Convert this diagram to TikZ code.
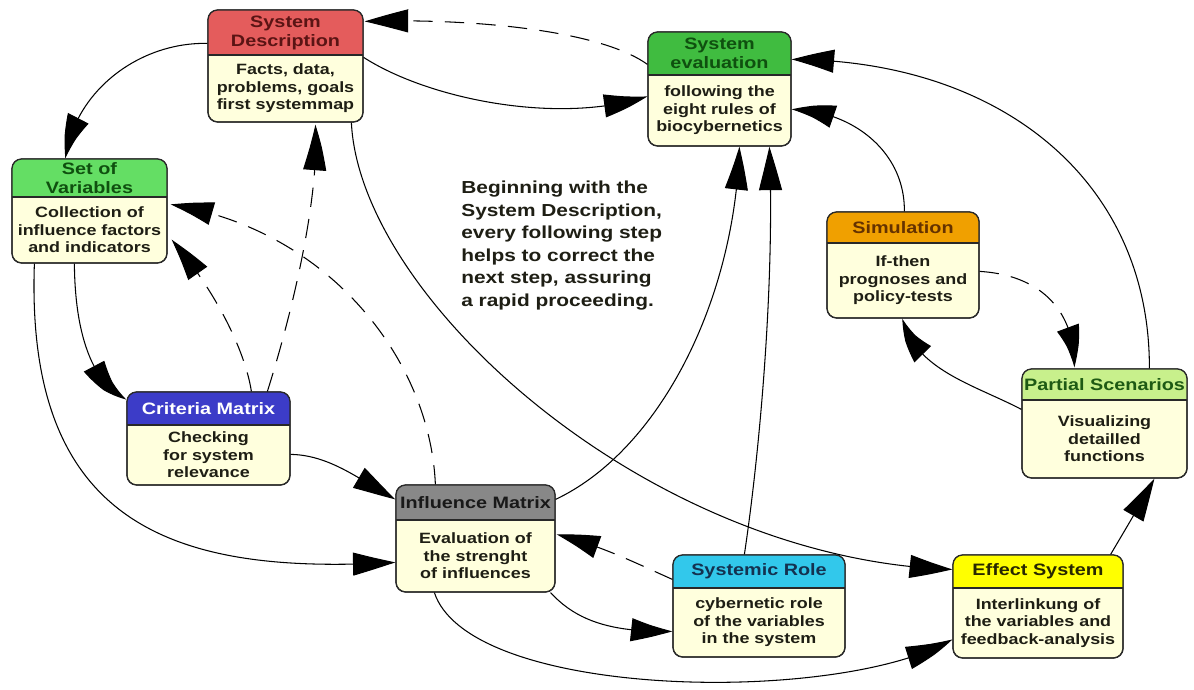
\documentclass[tikz,border=0pt]{standalone}
\usepackage{fontspec}
\setmainfont{Liberation Sans}[FakeStretch=1.2]
\usetikzlibrary{arrows.meta,bending,calc}

% header fills and title colours of the boxes
\definecolor{bodyfill}{RGB}{255,255,221}
\definecolor{edge}{RGB}{40,40,40}
\definecolor{ink}{RGB}{30,30,20}
\definecolor{hdSD}{RGB}{228,92,92}   \definecolor{ttSD}{RGB}{90,20,20}
\definecolor{hdSE}{RGB}{64,188,64}   \definecolor{ttSE}{RGB}{15,80,15}
\definecolor{hdSV}{RGB}{100,222,100} \definecolor{ttSV}{RGB}{15,80,15}
\definecolor{hdSI}{RGB}{240,160,0}   \definecolor{ttSI}{RGB}{100,50,0}
\definecolor{hdCM}{RGB}{60,60,200}   \definecolor{ttCM}{RGB}{255,255,255}
\definecolor{hdPS}{RGB}{200,240,140} \definecolor{ttPS}{RGB}{30,90,20}
\definecolor{hdIM}{RGB}{136,136,136} \definecolor{ttIM}{RGB}{25,25,25}
\definecolor{hdSR}{RGB}{50,200,235}  \definecolor{ttSR}{RGB}{20,50,80}
\definecolor{hdES}{RGB}{255,255,0}   \definecolor{ttES}{RGB}{40,40,0}

\tikzset{
  frame/.style={draw=edge, fill=bodyfill, rounded corners=5.5pt, inner sep=0pt, line width=0.7pt},
  boxtitle/.style={inner sep=0pt, align=center, font=\fontsize{9.4}{10.8}\selectfont\bfseries},
  boxbody/.style={inner sep=0pt, align=center, text=ink, font=\fontsize{8.5}{9.9}\selectfont\bfseries},
  link/.style={line width=0.6pt, draw=black, -{Triangle[length=0.86cm, width=0.46cm, bend]}},
  dlink/.style={link, dash pattern=on 11pt off 7pt},
}

% #1 name, #2,#3 top-left, #4,#5 bottom-right, #6 header base, #7 colour key, #8 title, #9 body
\newcommand\flowbox[9]{%
  \node[frame, minimum width={(#4-#2)*0.02cm}, minimum height={(#5-#3)*0.02cm}]
    (#1) at ({(#2+#4)/2},{(#3+#5)/2}) {};
  \begin{scope}
    \clip[rounded corners=5.5pt] (#2,#3) rectangle (#4,#5);
    \fill[hd#7] (#2,#3) rectangle (#4,#6);
  \end{scope}
  \draw[draw=edge, rounded corners=5.5pt, line width=0.7pt] (#2,#3) rectangle (#4,#5);
  \draw[draw=edge, line width=0.7pt] (#2,#6) -- (#4,#6);
  \node[boxtitle, text=tt#7] (#1-t) at ({(#2+#4)/2},{(#3+#6)/2}) {#8};
  \node[boxbody] (#1-b) at ({(#2+#4)/2},{(#6+#5)/2}) {#9};
}

\begin{document}
\begin{tikzpicture}[x=0.02cm, y=-0.02cm]
\useasboundingbox[fill=white] (0,0) rectangle (1194,690);

% the nine steps
\flowbox{sd}{208}{10}{363}{122}{55}{SD}{System\\Description}{Facts, data,\\problems, goals\\first systemmap}
\flowbox{se}{648}{32}{791}{146}{75}{SE}{System\\evaluation}{following the\\eight rules of\\biocybernetics}
\flowbox{sv}{12}{159}{167}{263}{197}{SV}{Set of\\Variables}{Collection of\\influence factors\\and indicators}
\flowbox{si}{827}{212}{979}{318}{243}{SI}{Simulation}{If-then\\prognoses and\\policy-tests}
\flowbox{cm}{127}{392}{290}{485}{425}{CM}{Criteria Matrix}{Checking\\for system\\relevance}
\flowbox{ps}{1022}{369}{1187}{478}{400}{PS}{Partial Scenarios}{Visualizing\\detailled\\functions}
\flowbox{im}{396}{485}{555}{592}{520}{IM}{Influence Matrix}{Evaluation of\\the strenght\\of influences}
\flowbox{sr}{673}{555}{845}{657}{588}{SR}{Systemic Role}{cybernetic role\\of the variables\\in the system}
\flowbox{es}{953}{555}{1123}{658}{588}{ES}{Effect System}{Interlinkung of\\the variables and\\feedback-analysis}

% note in the middle
\node[anchor=north west, inner sep=0pt, align=left, text=ink,
      font=\fontsize{9.9}{12.8}\selectfont\bfseries] (note) at (461,181)
  {Beginning with the\\System Description,\\every following step\\helps to correct the\\next step, assuring\\a rapid proceeding.};

% solid connectors
\draw[link] ($(sd.north west)+(0,34)$) .. controls (140,42) and (75,90) .. ($(sv.north west)+(54,0)$);
\draw[link] ($(sd.north east)+(0,48)$) .. controls (430,100) and (560,125) .. ($(se.north west)+(0,65)$);
\draw[link] ($(sv.south west)+(63,0)$) .. controls (75,340) and (95,385) .. ($(cm.north west)+(0,8)$);
\draw[link] ($(sv.south west)+(23,0)$) .. controls (25,530) and (180,575) .. ($(im.north west)+(0,78)$);
\draw[link] ($(cm.north east)+(0,63)$) .. controls (330,455) and (360,480) .. ($(im.north west)+(0,15)$);
\draw[link] ($(sd.south west)+(144,0)$) .. controls (360,300) and (650,560) .. ($(es.north west)+(0,15)$);
\draw[link] ($(im.north east)+(0,15)$) .. controls (660,450) and (735,300) .. ($(se.south west)+(92,0)$);
\draw[link] ($(sr.north west)+(72,0)$) .. controls (760,450) and (775,280) .. ($(se.south west)+(122,0)$);
\draw[link] ($(im.south east)+(-5,0)$) .. controls (580,625) and (620,632) .. ($(sr.north west)+(0,77)$);
\draw[link] ($(im.south west)+(39,0)$) .. controls (470,700) and (840,705) .. ($(es.north west)+(0,85)$);
\draw[link] ($(es.north east)+(-13,0)$) .. controls (1125,530) and (1140,505) .. ($(ps.south west)+(133,0)$);
\draw[link] ($(ps.north west)+(0,41)$) .. controls (975,385) and (915,370) .. ($(si.south west)+(76,0)$);
\draw[link] ($(si.north west)+(78,0)$) .. controls (905,150) and (850,110) .. ($(se.north east)+(0,78)$);
\draw[link] ($(ps.north west)+(128,0)$) .. controls (1150,180) and (1000,60) .. ($(se.north east)+(0,28)$);

% dashed connectors
\draw[dlink] ($(se.north west)+(0,33)$) .. controls (600,30) and (470,18) .. ($(sd.north east)+(1,12)$);
\draw[dlink] ($(cm.north west)+(125,0)$) .. controls (245,350) and (215,290) .. ($(sv.south east)+(4,-24)$);
\draw[dlink] ($(cm.north west)+(141,0)$) .. controls (290,320) and (320,200) .. ($(sd.south west)+(108,2)$);
\draw[dlink] ($(im.north west)+(40,0)$) .. controls (430,360) and (330,230) .. ($(sv.north east)+(3,46)$);
\draw[dlink] ($(sr.north west)+(0,25)$) .. controls (640,565) and (600,545) .. ($(im.north east)+(1,50)$);
\draw[dlink] ($(si.north east)+(0,60)$) .. controls (1040,275) and (1075,310) .. ($(ps.north west)+(53,-1)$);
\end{tikzpicture}
\end{document}
